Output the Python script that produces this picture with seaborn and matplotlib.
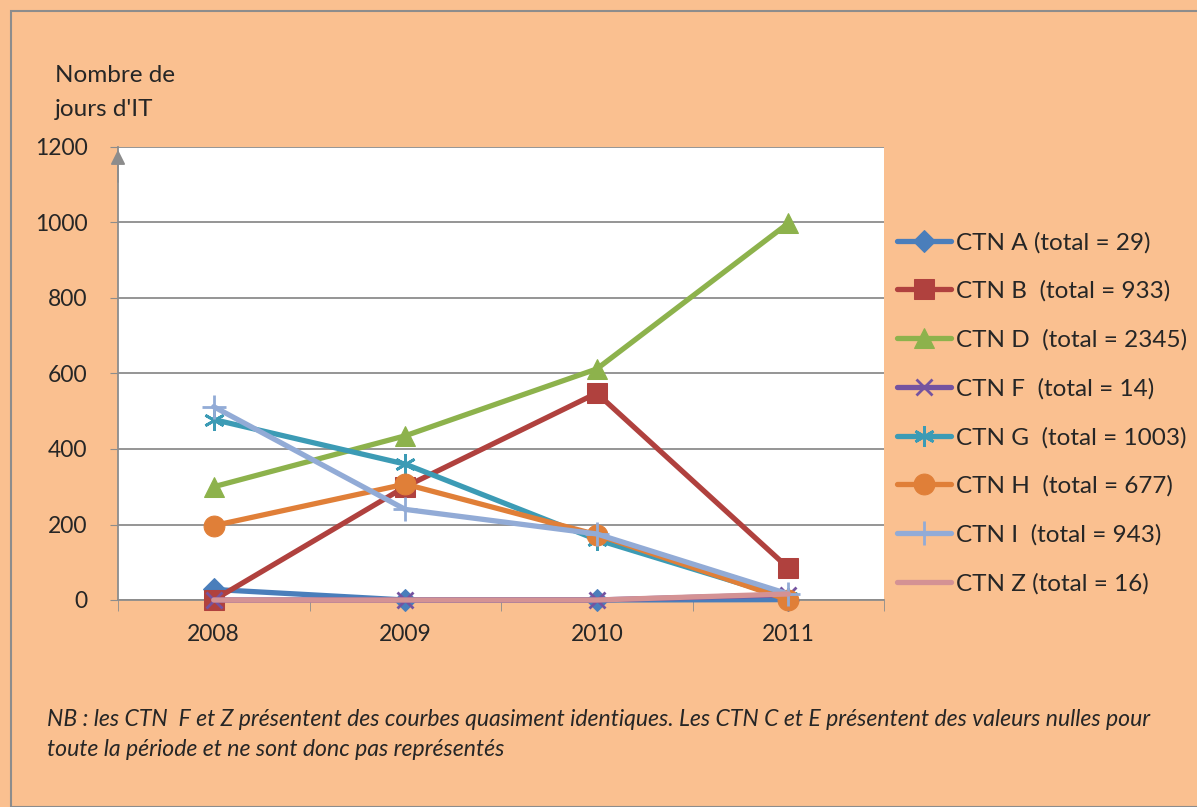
import numpy as np
import matplotlib.pyplot as plt
import pandas as pd
import seaborn as sns
from matplotlib.patches import Rectangle

# Data
years = ["2008", "2009", "2010", "2011"]
ctn_a = [28, 0, 0, 1]
ctn_b = [0, 300, 548, 85]
ctn_d = [300, 435, 612, 998]
ctn_f = [0, 0, 0, 14]
ctn_g = [478, 360, 160, 5]
ctn_h = [197, 307, 173, 0]
ctn_i = [512, 240, 175, 16]
ctn_z = [0, 0, 0, 16]

labels = ["CTN A (total = 29)", "CTN B  (total = 933)", "CTN D  (total = 2345)",
          "CTN F  (total = 14)", "CTN G  (total = 1003)", "CTN H  (total = 677)",
          "CTN I  (total = 943)", "CTN Z (total = 16)"]
series = [ctn_a, ctn_b, ctn_d, ctn_f, ctn_g, ctn_h, ctn_i, ctn_z]
colors = ["#4A7EBB", "#B0413E", "#8DB24C", "#7453A0", "#3C9BB5",
          "#E07F38", "#92ABD6", "#D49294"]
markers = ["D", "s", "^", "x", (6, 2, 0), "o", "+", None]
msizes = [11, 14, 14, 12, 15, 15, 17, 0]

sns.set_style("white")
plt.rcParams["font.family"] = ["Lato", "DejaVu Sans"]

bg = "#FAC090"
fig = plt.figure(figsize=(11.97, 8.07), dpi=100, facecolor=bg)
ax = fig.add_axes([118 / 1197, 1 - 600 / 807, (884 - 118) / 1197, (600 - 147) / 807])
ax.set_facecolor("white")

# frame around the whole chart
fig.patches.append(Rectangle((11 / 1197, 0), 1, 1 - 11 / 807, transform=fig.transFigure,
                             fill=False, edgecolor="#8C8C8C", linewidth=1.5))

xpos = np.arange(len(years))
for i, (vals, lab) in enumerate(zip(series, labels)):
    df = pd.DataFrame({"x": xpos, "y": vals})
    kw = dict(marker=markers[i], markersize=msizes[i],
              markeredgecolor=colors[i]) if markers[i] is not None else {}
    if markers[i] in ("x", "+", (6, 2, 0)):
        kw["markeredgewidth"] = 2
    sns.lineplot(data=df, x="x", y="y", ax=ax, color=colors[i], linewidth=3.8,
                 label=lab, clip_on=False, zorder=3 + i, **kw)

ax.set_xlim(-0.5, 3.5)
ax.set_ylim(0, 1200)
ax.set_yticks(range(0, 1201, 200))
ax.set_xticks(xpos)
ax.set_xticklabels(years)
ax.set_xticks(np.arange(-0.5, 3.6, 1), minor=True)
ax.set_xlabel("")
ax.set_ylabel("")
ax.yaxis.grid(True, color="#8C8C8C", linewidth=1.3)
ax.set_axisbelow(True)

for s in ["top", "right"]:
    ax.spines[s].set_visible(False)
ax.spines["left"].set_color("#8C8C8C")
ax.spines["bottom"].set_color("#8C8C8C")
ax.spines["left"].set_linewidth(1.3)
ax.spines["bottom"].set_linewidth(1.3)

ax.tick_params(axis="y", which="major", left=True, length=6, color="#8C8C8C",
               labelsize=16.5, pad=16)
ax.tick_params(axis="x", which="major", bottom=False, labelsize=16.5, pad=14)
ax.tick_params(axis="x", which="minor", bottom=True, length=8, color="#8C8C8C")

# arrow on the y axis
ax.annotate("", xy=(-0.5, 1200), xytext=(-0.5, 1100), xycoords="data",
            arrowprops=dict(arrowstyle="-|>", color="#8C8C8C", lw=1.3, mutation_scale=22),
            annotation_clip=False)

fig.text(55 / 1197, 1 - 76 / 807, "Nombre de", fontsize=17.5, va="center", ha="left")
fig.text(55 / 1197, 1 - 110 / 807, "jours d'IT", fontsize=17.5, va="center", ha="left")

leg = ax.legend(loc="upper left", bbox_to_anchor=(887 / 1197, 1 - 222 / 807),
                bbox_transform=fig.transFigure, frameon=False, fontsize=17.5,
                handlelength=2.25, handletextpad=0.2, labelspacing=1.12, borderaxespad=0)

fig.text(47 / 1197, 1 - 720 / 807,
         "NB : les CTN  F et Z présentent des courbes quasiment identiques. Les CTN C et E présentent des valeurs nulles pour",
         fontsize=16.6, style="italic", va="center")
fig.text(47 / 1197, 1 - 750 / 807, "toute la période et ne sont donc pas représentés",
         fontsize=16.6, style="italic", va="center")

fig.savefig("out.png", dpi=100, facecolor=bg)
